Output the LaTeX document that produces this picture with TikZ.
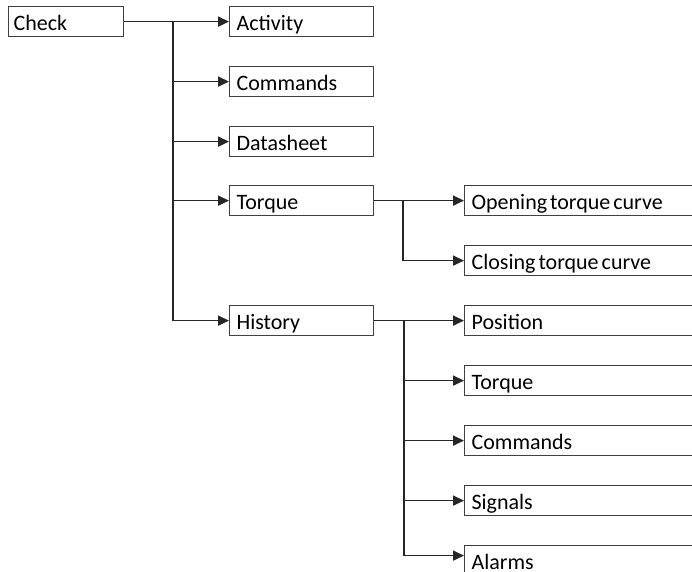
\documentclass[tikz,border=0pt]{standalone}
\usepackage{fontspec}
\setmainfont{Carlito}
\usetikzlibrary{arrows.meta}
\begin{document}
\begin{tikzpicture}[x=1pt,y=-1pt,
  every node/.style={font=\fontsize{22}{24}\selectfont, execute at begin node={\spaceskip=3pt\relax}},
  box/.style={draw=black!75, line width=1.2pt, anchor=north west, minimum height=30pt,
    text height=18pt, text depth=0pt, inner xsep=7pt, align=left, inner ysep=0pt},
  lbox/.style={box, minimum width=144pt, text width=130pt},
  rbox/.style={box, minimum width=240pt, text width=226pt},
  line/.style={draw=black!85, line width=1.7pt},
  conn/.style={line, -{Triangle[length=11pt,width=10pt]}}]
\fill[white] (0,0) rectangle (692,571);
\clip (0,0) rectangle (692,571);
\node[box, minimum width=115pt, text width=105pt, inner xsep=5pt] (check) at (8,6) {Check};
\node[lbox] (activity) at (229,6) {Activity};
\node[lbox] (commands) at (229,66) {Commands};
\node[lbox] (datasheet) at (229,126) {Datasheet};
\node[lbox] (torque) at (229,185) {Torque};
\node[lbox] (history) at (229,305) {History};
\node[rbox] (opening) at (464,185) {Opening torque curve};
\node[rbox] (closing) at (464,245) {Closing torque curve};
\node[rbox] (position) at (464,305) {Position};
\node[rbox] (htorque) at (464,365) {Torque};
\node[rbox] (hcommands) at (464,425) {Commands};
\node[rbox] (signals) at (464,485) {Signals};
\node[rbox] (alarms) at (464,545) {Alarms};
\coordinate (tk) at (173,0);
\coordinate (tq) at (403,0);
\coordinate (hs) at (404,0);
% trunk from Check
\draw[conn] (check.east) -- (activity.west);
\draw[line] (tk |- check.east) -- (tk |- history.west);
\draw[conn] (tk |- commands.west) -- (commands.west);
\draw[conn] (tk |- datasheet.west) -- (datasheet.west);
\draw[conn] (tk |- torque.west) -- (torque.west);
\draw[conn] (tk |- history.west) -- (history.west);
% torque branch
\draw[conn] (torque.east) -- (opening.west);
\draw[line] (tq |- torque.east) -- (tq |- closing.west);
\draw[conn] (tq |- closing.west) -- (closing.west);
% history branch
\draw[conn] (history.east) -- (position.west);
\draw[line] (hs |- history.east) -- ([yshift=5pt]hs |- alarms.west);
\draw[conn] (hs |- htorque.west) -- (htorque.west);
\draw[conn] (hs |- hcommands.west) -- (hcommands.west);
\draw[conn] (hs |- signals.west) -- (signals.west);
\draw[conn] ([yshift=5pt]hs |- alarms.west) -- ([yshift=5pt]alarms.west);
\end{tikzpicture}
\end{document}
